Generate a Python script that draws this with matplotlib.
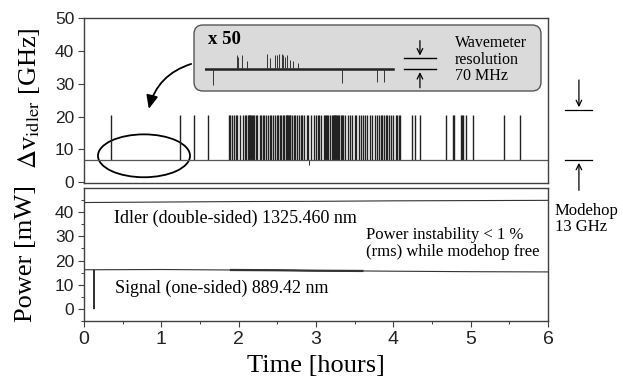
import numpy as np
import matplotlib.pyplot as plt
from matplotlib.patches import Ellipse, FancyBboxPatch

plt.rcParams['font.family'] = ['Liberation Sans', 'DejaVu Sans']
plt.rcParams['mathtext.fontset'] = 'stix'

# modehop spikes in idler frequency (hours)
spike_times = [0.35, 1.24, 1.42, 1.60,
               1.87, 1.89, 1.91, 1.94, 1.96, 1.98,
               2.02, 2.05, 2.08, 2.10, 2.12, 2.13, 2.14, 2.15, 2.16, 2.17, 2.18,
               2.20, 2.22, 2.24, 2.27, 2.29, 2.31, 2.33, 2.36, 2.38, 2.40, 2.42,
               2.45, 2.47, 2.49, 2.51, 2.53, 2.55, 2.57, 2.59, 2.61, 2.62, 2.63,
               2.64, 2.65, 2.66, 2.67, 2.69, 2.71, 2.73, 2.75, 2.78, 2.80, 2.82,
               2.85, 2.88, 2.90, 2.94, 2.97, 3.00, 3.02, 3.04, 3.06, 3.10, 3.12,
               3.13, 3.14, 3.15, 3.18, 3.21, 3.22, 3.23, 3.24, 3.25, 3.26, 3.27,
               3.28, 3.30, 3.32, 3.34, 3.35, 3.38, 3.41, 3.44, 3.47, 3.50, 3.52,
               3.55, 3.58, 3.61, 3.63, 3.66, 3.70, 3.73, 3.76, 3.79, 3.82, 3.84,
               3.86, 3.88, 3.90, 3.92, 3.95, 3.97, 4.00, 4.03, 4.05, 4.07, 4.09,
               4.24, 4.28, 4.35, 4.68, 4.77, 4.78, 4.87, 4.89, 4.90, 4.94, 5.03,
               5.43, 5.64]
base_level = 6.7
hop_level = 20.6
dip_times = [2.91]
dip_level = 5.3

# inset (x 50) trace
inset_up_t = [1.01, 1.06, 1.17, 1.33, 1.98, 2.07, 2.23, 2.30, 2.36, 2.46,
              2.49, 2.55, 2.62, 2.71, 2.81, 2.97]
inset_up_v = [0.09, 0.08, 0.09, 0.05, 0.10, 0.07, 0.09, 0.09, 0.10, 0.10,
              0.09, 0.08, 0.09, 0.06, 0.05, 0.04]
inset_dn_t = [0.25, 4.36, 5.48, 5.71]
inset_dn_v = [-0.10, -0.09, -0.08, -0.08]

# power traces
idler_t = [0, 1, 2, 3, 4, 5, 6]
idler_p = [44.0, 44.2, 44.4, 44.5, 44.7, 44.8, 44.9]
signal_t = [0, 0.125, 0.13, 0.135, 1, 1.9, 2.5, 3.0, 3.6, 4, 5, 6]
signal_p = [16.2, 16.2, 0.0, 16.2, 16.3, 16.1, 16.0, 15.8, 15.7, 15.6, 15.4, 15.3]

fig = plt.figure(figsize=(6.23, 3.79), dpi=100)
ax1 = fig.add_axes([0.1348, 0.5172, 0.7448, 0.4345])
ax2 = fig.add_axes([0.1348, 0.1530, 0.7448, 0.3509])

edge = '#404040'
serif = ['Liberation Serif', 'DejaVu Serif']

# top panel
ax1.vlines(spike_times, base_level, hop_level, color='#222222', lw=1.0)
ax1.vlines(dip_times, dip_level, base_level, color='#2a2a2a', lw=0.7)
ax1.axhline(base_level, color='#555555', lw=0.9)
ax1.set_xlim(0, 6)
ax1.set_ylim(-0.3, 50)
ax1.set_yticks([0, 10, 20, 30, 40, 50])
ax1.set_xticks([])
ax1.tick_params(axis='y', direction='out', length=4, width=0.8, pad=3,
                labelsize=12.5, color=edge, labelcolor='#222222')

ax1.add_patch(Ellipse((0.776, 8.0), 1.19, 13.1, fill=False, ec='black', lw=1.3))
ax1.annotate('', xy=(0.83, 21.5), xytext=(1.42, 36.3),
             arrowprops=dict(arrowstyle='-|>,head_length=0.8,head_width=0.35',
                             connectionstyle='arc3,rad=0.3', color='black', lw=1.3))

# modehop markers outside the frame
ax1.annotate('', xy=(6.40, 22.0), xytext=(6.40, 32.0), annotation_clip=False,
             arrowprops=dict(arrowstyle='->', color='black', lw=0.9))
ax1.annotate('', xy=(6.40, base_level), xytext=(6.40, -3.4), annotation_clip=False,
             arrowprops=dict(arrowstyle='->', color='black', lw=0.9))
ax1.plot([6.22, 6.57], [22.0, 22.0], color='black', lw=0.9, clip_on=False)
ax1.plot([6.22, 6.57], [base_level, base_level], color='black', lw=0.9, clip_on=False)

# inset box
box = FancyBboxPatch((1.94, 2.88), 3.47, 0.66, boxstyle='round,pad=0,rounding_size=0.09',
                     transform=fig.dpi_scale_trans, fc='#dadada', ec='#555555', lw=1.0,
                     zorder=3)
fig.patches.append(box)
fig.text(2.08 / 6.23, 1 - 0.39 / 3.79, 'x 50', fontsize=13.5, fontweight='bold',
         family=serif, va='center', ha='left', zorder=5)

axi = fig.add_axes([2.05 / 6.23, 1 - 0.913 / 3.79, 2.35 / 6.23, 0.55 / 3.79])
axi.set_xlim(0, 7.5)
axi.set_ylim(-0.14, 0.21)
axi.axis('off')
axi.set_zorder(4)
axi.plot([0, 6], [0, 0], color='#222222', lw=1.8)
axi.vlines(inset_up_t, 0, inset_up_v, color='#333333', lw=0.7)
axi.vlines(inset_dn_t, inset_dn_v, 0, color='#333333', lw=0.7)
axi.plot([6.35, 7.37], [0.07, 0.07], color='black', lw=1.0)
axi.plot([6.35, 7.37], [0, 0], color='black', lw=1.0)
axi.annotate('', xy=(6.86, 0.07), xytext=(6.86, 0.20),
             arrowprops=dict(arrowstyle='->', color='black', lw=0.9))
axi.annotate('', xy=(6.86, 0.0), xytext=(6.86, -0.135),
             arrowprops=dict(arrowstyle='->', color='black', lw=0.9))
fig.text(4.55 / 6.23, 1 - 0.595 / 3.79, 'Wavemeter\nresolution\n70 MHz', fontsize=11.5,
         family=serif, va='center', ha='left', linespacing=1.05, zorder=5)

# bottom panel
ax2.plot(idler_t, idler_p, color='#333333', lw=0.8)
ax2.plot(signal_t, signal_p, color='#333333', lw=0.8)
ax2.plot(signal_t[5:9], signal_p[5:9], color='#333333', lw=1.6)
ax2.set_xlim(0, 6)
ax2.set_ylim(-5, 50)
ax2.set_yticks([0, 10, 20, 30, 40])
ax2.set_yticks([-5, 5, 15, 25, 35, 45], minor=True)
ax2.set_xticks([0, 1, 2, 3, 4, 5, 6])
ax2.set_xticks([0.5, 1.5, 2.5, 3.5, 4.5, 5.5], minor=True)
ax2.tick_params(axis='y', which='major', direction='out', length=4, width=0.8, pad=3,
                labelsize=12.5, color=edge, labelcolor='#222222')
ax2.tick_params(axis='x', which='major', direction='out', length=4, width=0.8, pad=3,
                labelsize=14, color=edge, labelcolor='#222222')
ax2.tick_params(which='minor', direction='out', length=2.5, width=0.7, color=edge)

ax2.text(0.39, 37.6, 'Idler (double-sided) 1325.460 nm', fontsize=13, family=serif,
         va='center', ha='left')
ax2.text(3.65, 27.0, 'Power instability < 1 %\n(rms) while modehop free', fontsize=12,
         family=serif, va='center', ha='left', linespacing=1.1)
ax2.text(0.40, 8.5, 'Signal (one-sided) 889.42 nm', fontsize=13, family=serif,
         va='center', ha='left')

for ax in (ax1, ax2):
    for s in ax.spines.values():
        s.set_color(edge)
        s.set_linewidth(1.0)

fig.text(555 / 623, 1 - 219 / 379, 'Modehop\n13 GHz', fontsize=12, family=serif,
         va='center', ha='left', linespacing=1.05)

fig.text(0.047, 1 - 98 / 379, r'$\Delta$v$_{\rm idler}$ [GHz]', fontsize=19,
         family=serif, rotation=90, va='center', ha='center')
fig.text(0.042, 1 - 254 / 379, 'Power [mW]', fontsize=19, family=serif,
         rotation=90, va='center', ha='center')
fig.text(0.507, 1 - 366 / 379, 'Time [hours]', fontsize=19, family=serif,
         va='center', ha='center')

fig.savefig('out.png', dpi=100)
